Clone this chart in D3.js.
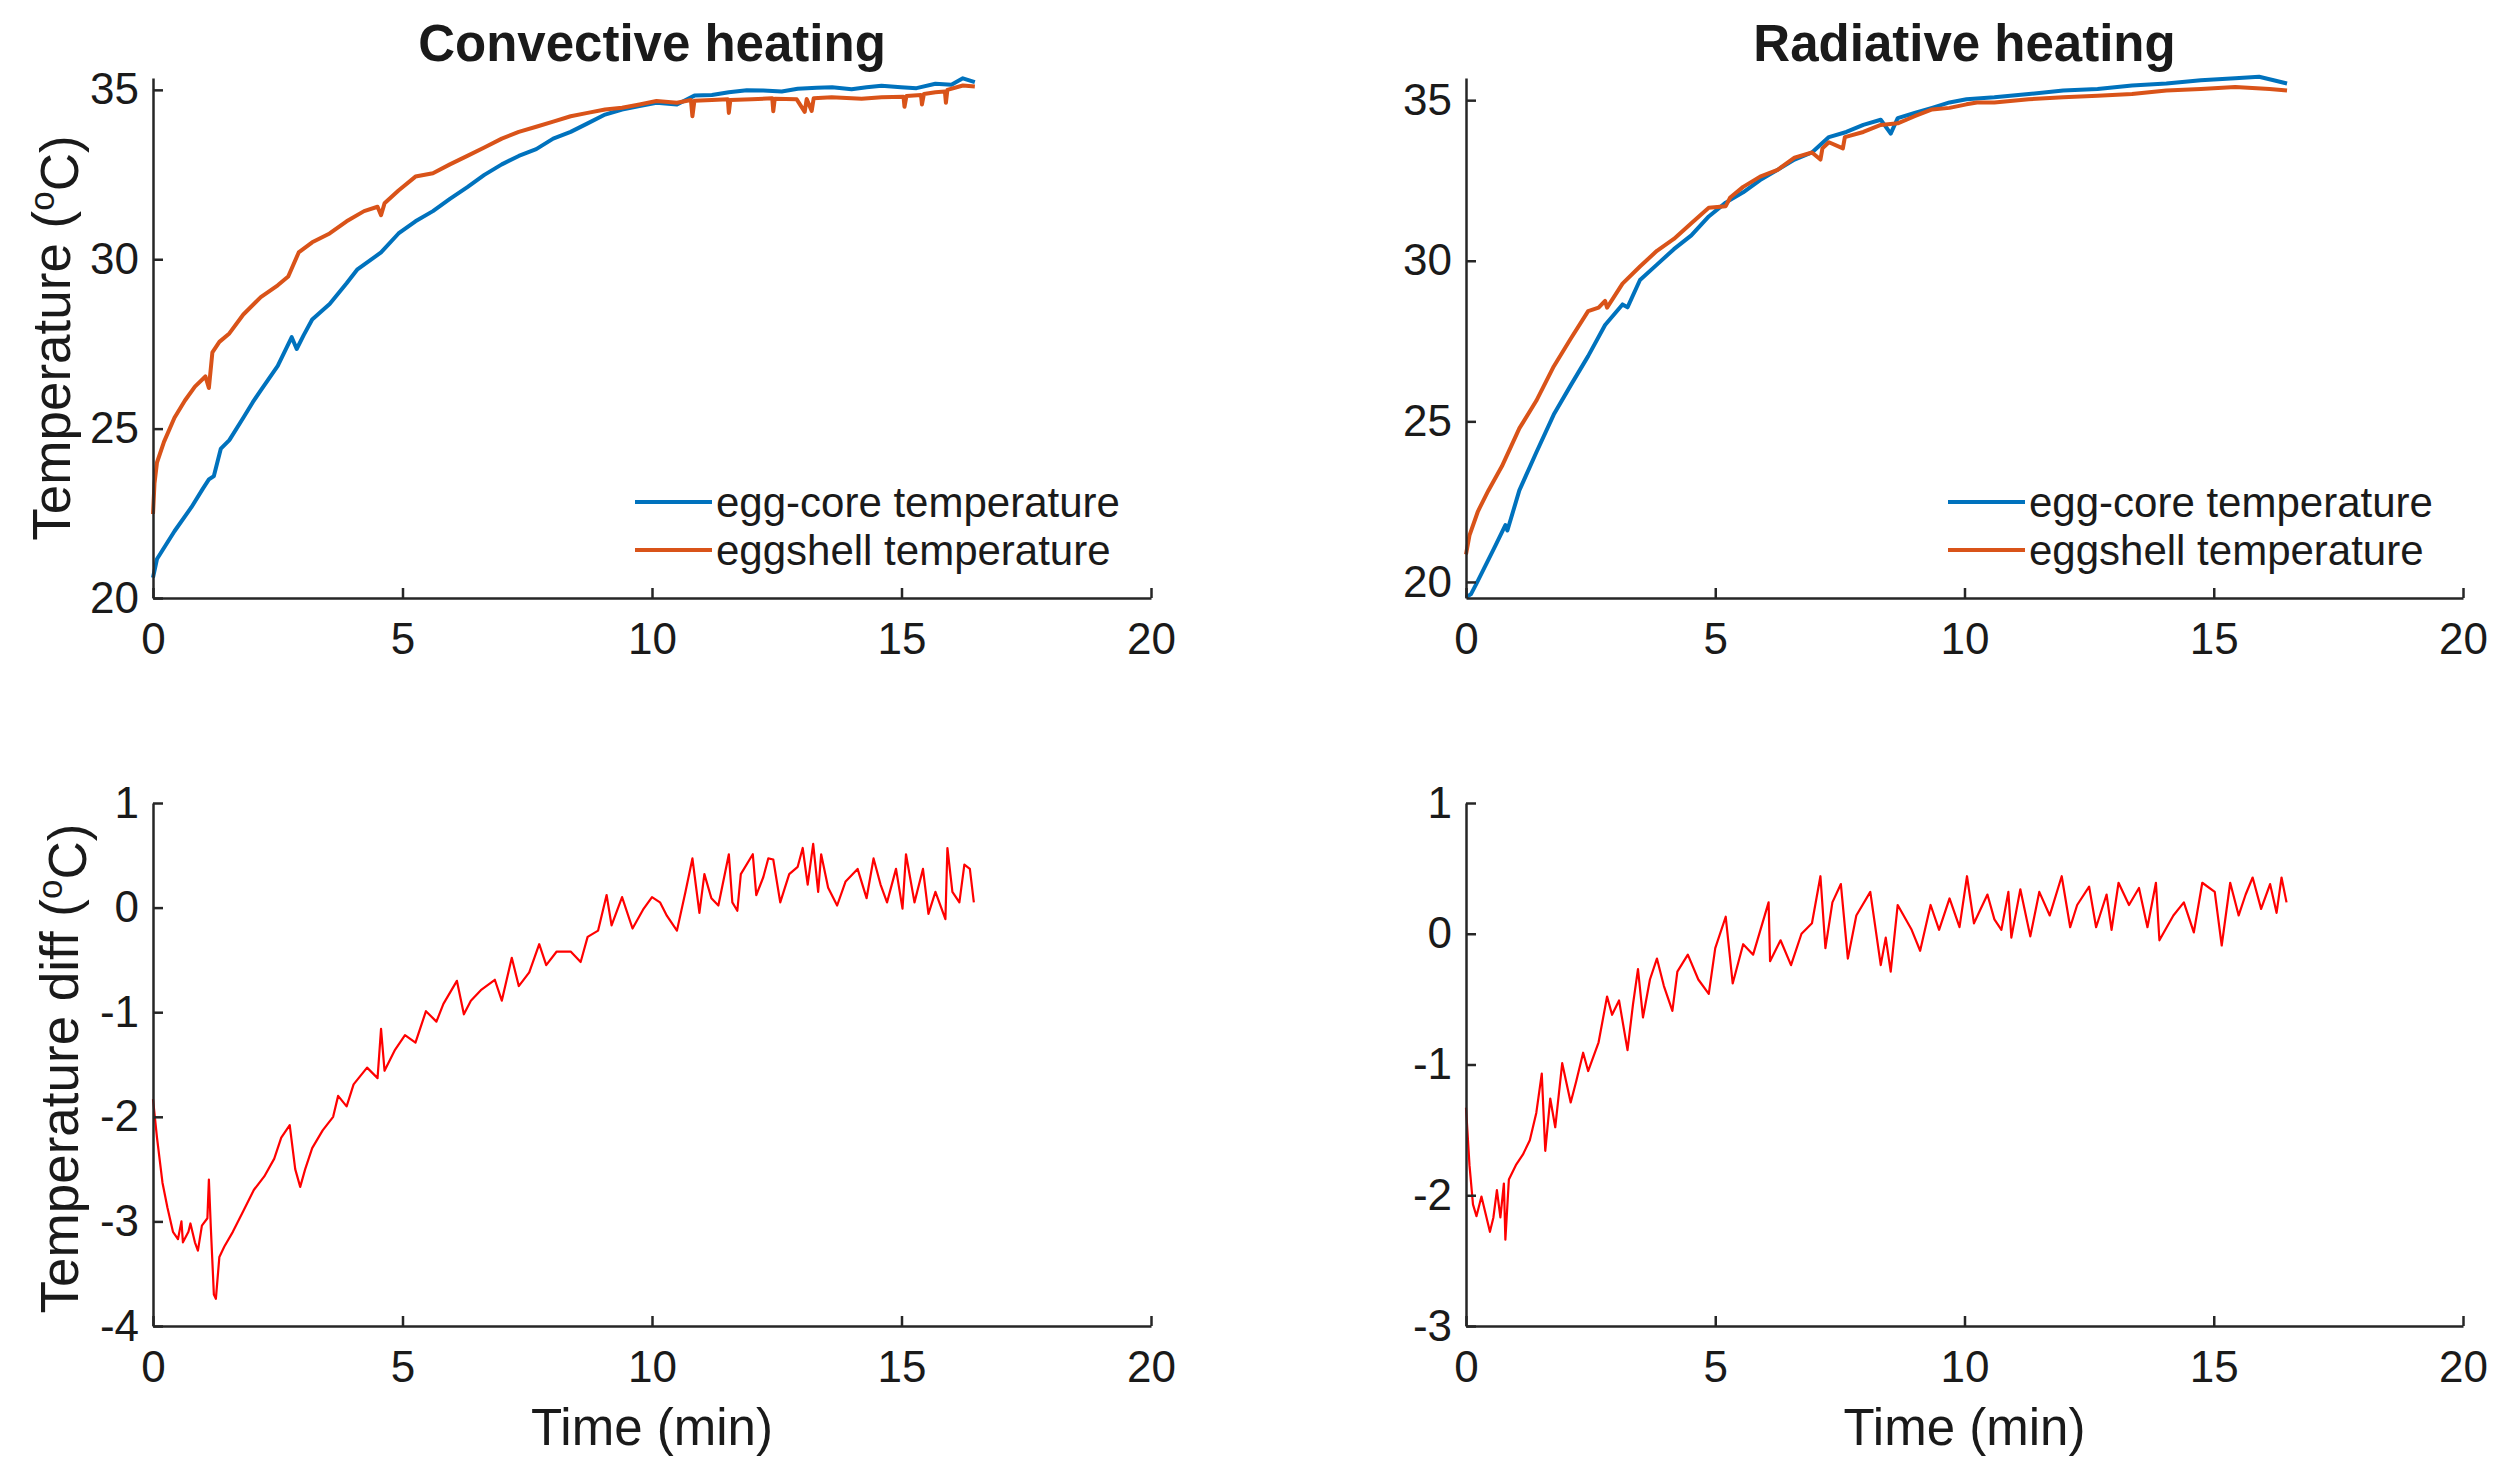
<!DOCTYPE html>
<html>
<head>
<meta charset="utf-8">
<script src="https://cdn.jsdelivr.net/npm/d3@7"></script>
<style>
  body { margin: 0; background: #fff; }
  text { font-family: "Liberation Sans", Arial, sans-serif; fill: #1a1a1a; }
</style>
</head>
<body>
<div id="viz"></div>
<script>
// ---- data (time in min, temperature in degC) ----
let titles = ["Convective heating", "Radiative heating"];
let legendNames = ["egg-core temperature", "eggshell temperature"];
let xTicks = [0, 5, 10, 15, 20];
let tempTicksConv = [20, 25, 30, 35];
let tempTicksRad = [20, 25, 30, 35];
let diffTicksConv = [-4, -3, -2, -1, 0, 1];
let diffTicksRad = [-3, -2, -1, 0, 1];

let convCoreTime = [0, 0.08, 0.43, 0.77, 1.0, 1.12, 1.22, 1.36, 1.53, 1.81, 2.0, 2.16, 2.5, 2.78, 2.88, 3.02, 3.19, 3.54, 3.88, 4.09, 4.57, 4.92, 5.26, 5.61, 5.95, 6.3, 6.64, 6.99, 7.33, 7.68, 8.02, 8.37, 8.71, 9.06, 9.4, 9.75, 10.09, 10.5, 10.85, 11.2, 11.54, 11.9, 12.23, 12.6, 12.92, 13.3, 13.61, 14.0, 14.3, 14.6, 14.99, 15.3, 15.68, 16.0, 16.23, 16.47];
let convCoreTemp = [20.6, 21.15, 21.97, 22.68, 23.23, 23.5, 23.6, 24.41, 24.66, 25.32, 25.78, 26.13, 26.85, 27.7, 27.35, 27.76, 28.22, 28.68, 29.29, 29.69, 30.2, 30.76, 31.12, 31.42, 31.78, 32.13, 32.49, 32.8, 33.05, 33.25, 33.56, 33.76, 34.01, 34.27, 34.42, 34.52, 34.62, 34.57, 34.83, 34.85, 34.93, 34.99, 34.98, 34.95, 35.03, 35.06, 35.08, 35.02, 35.08, 35.12, 35.08, 35.05, 35.18, 35.15, 35.34, 35.23];

let convShellTime = [0, 0.03, 0.08, 0.22, 0.43, 0.64, 0.84, 1.05, 1.12, 1.19, 1.33, 1.53, 1.81, 2.16, 2.5, 2.71, 2.92, 3.19, 3.54, 3.88, 4.23, 4.5, 4.57, 4.64, 4.92, 5.26, 5.61, 5.95, 6.3, 6.64, 6.99, 7.33, 7.68, 8.02, 8.37, 8.71, 9.06, 9.4, 9.75, 10.09, 10.5, 10.78, 10.81, 10.85, 11.2, 11.52, 11.54, 11.57, 12.0, 12.41, 12.43, 12.46, 12.9, 13.06, 13.1, 13.2, 13.24, 13.6, 14.2, 14.6, 15.04, 15.06, 15.1, 15.39, 15.41, 15.45, 15.68, 15.87, 15.89, 15.92, 16.23, 16.47];
let convShellTemp = [22.48, 23.39, 24.0, 24.61, 25.32, 25.83, 26.24, 26.54, 26.2, 27.25, 27.56, 27.81, 28.37, 28.88, 29.23, 29.49, 30.2, 30.5, 30.76, 31.12, 31.42, 31.55, 31.3, 31.65, 32.03, 32.44, 32.54, 32.8, 33.05, 33.3, 33.56, 33.76, 33.91, 34.06, 34.22, 34.32, 34.42, 34.47, 34.57, 34.67, 34.62, 34.7, 34.22, 34.68, 34.7, 34.72, 34.32, 34.7, 34.72, 34.75, 34.37, 34.74, 34.72, 34.35, 34.73, 34.38, 34.75, 34.78, 34.74, 34.78, 34.8, 34.5, 34.82, 34.85, 34.57, 34.88, 34.93, 34.95, 34.62, 35.0, 35.13, 35.1];

let radCoreTime = [0, 0.1, 0.21, 0.38, 0.59, 0.79, 0.83, 1.07, 1.41, 1.76, 2.1, 2.45, 2.79, 3.14, 3.24, 3.49, 3.83, 4.17, 4.52, 4.87, 5.21, 5.56, 5.9, 6.25, 6.59, 6.94, 7.28, 7.63, 7.97, 8.32, 8.52, 8.66, 9.0, 9.35, 9.7, 10.04, 10.6, 11.29, 11.98, 12.67, 13.36, 14.05, 14.74, 15.43, 15.91, 16.47];
let radCoreTemp = [19.52, 19.62, 19.95, 20.48, 21.13, 21.77, 21.6, 22.85, 24.03, 25.21, 26.12, 27.03, 28.0, 28.64, 28.55, 29.4, 29.88, 30.36, 30.79, 31.38, 31.81, 32.13, 32.51, 32.83, 33.15, 33.37, 33.85, 34.01, 34.23, 34.39, 33.96, 34.44, 34.6, 34.76, 34.93, 35.03, 35.09, 35.19, 35.3, 35.35, 35.46, 35.52, 35.62, 35.68, 35.73, 35.52];

let radShellTime = [0, 0.07, 0.24, 0.45, 0.72, 1.07, 1.41, 1.76, 2.1, 2.45, 2.66, 2.79, 2.83, 3.14, 3.49, 3.83, 4.17, 4.52, 4.87, 5.21, 5.3, 5.56, 5.9, 6.25, 6.59, 6.94, 7.11, 7.15, 7.28, 7.56, 7.6, 7.97, 8.32, 8.66, 9.0, 9.35, 9.7, 10.04, 10.25, 10.6, 11.29, 11.98, 12.67, 13.36, 14.05, 14.74, 15.43, 16.12, 16.47];
let radShellTemp = [20.86, 21.45, 22.2, 22.85, 23.6, 24.78, 25.64, 26.71, 27.57, 28.43, 28.54, 28.75, 28.54, 29.29, 29.82, 30.31, 30.68, 31.17, 31.65, 31.7, 31.97, 32.3, 32.62, 32.83, 33.21, 33.37, 33.15, 33.5, 33.69, 33.5, 33.85, 34.01, 34.23, 34.28, 34.5, 34.71, 34.76, 34.87, 34.93, 34.93, 35.03, 35.09, 35.14, 35.19, 35.3, 35.35, 35.41, 35.35, 35.3];

let convDiffTime = [0, 0.08, 0.19, 0.29, 0.4, 0.5, 0.57, 0.6, 0.71, 0.75, 0.84, 0.9, 0.98, 1.09, 1.12, 1.16, 1.22, 1.26, 1.33, 1.43, 1.6, 1.81, 2.02, 2.23, 2.43, 2.57, 2.74, 2.85, 2.95, 3.05, 3.19, 3.4, 3.61, 3.71, 3.88, 4.02, 4.29, 4.5, 4.57, 4.64, 4.85, 5.05, 5.26, 5.47, 5.68, 5.82, 6.09, 6.23, 6.37, 6.57, 6.85, 6.99, 7.19, 7.33, 7.54, 7.74, 7.88, 8.09, 8.37, 8.57, 8.71, 8.92, 9.09, 9.19, 9.4, 9.61, 9.82, 10.0, 10.16, 10.3, 10.5, 10.67, 10.81, 10.95, 11.05, 11.19, 11.33, 11.54, 11.61, 11.71, 11.78, 12.02, 12.09, 12.23, 12.33, 12.43, 12.57, 12.75, 12.92, 13.02, 13.12, 13.23, 13.33, 13.39, 13.53, 13.71, 13.88, 14.12, 14.3, 14.44, 14.58, 14.71, 14.89, 15.02, 15.09, 15.26, 15.43, 15.54, 15.68, 15.88, 15.92, 16.02, 16.16, 16.26, 16.37, 16.45];
let convDiffValue = [-1.83, -2.2, -2.63, -2.87, -3.1, -3.17, -3.0, -3.2, -3.1, -3.02, -3.2, -3.28, -3.04, -2.97, -2.6, -3.07, -3.7, -3.74, -3.34, -3.24, -3.1, -2.9, -2.7, -2.57, -2.4, -2.2, -2.08, -2.5, -2.67, -2.5, -2.3, -2.13, -2.0, -1.8, -1.9, -1.69, -1.53, -1.63, -1.16, -1.56, -1.36, -1.22, -1.29, -0.99, -1.09, -0.92, -0.7, -1.02, -0.89, -0.79, -0.69, -0.89, -0.48, -0.75, -0.62, -0.35, -0.55, -0.42, -0.42, -0.52, -0.28, -0.22, 0.12, -0.17, 0.1, -0.2, -0.02, 0.1, 0.05, -0.08, -0.22, 0.15, 0.47, -0.05, 0.32, 0.09, 0.02, 0.51, 0.05, -0.03, 0.32, 0.51, 0.12, 0.29, 0.47, 0.46, 0.05, 0.32, 0.39, 0.57, 0.22, 0.61, 0.15, 0.51, 0.19, 0.02, 0.25, 0.37, 0.09, 0.47, 0.22, 0.05, 0.37, -0.01, 0.51, 0.05, 0.37, -0.06, 0.15, -0.11, 0.57, 0.15, 0.05, 0.41, 0.37, 0.05];

let radDiffTime = [0, 0.07, 0.14, 0.21, 0.31, 0.38, 0.48, 0.55, 0.62, 0.69, 0.76, 0.79, 0.86, 1.0, 1.14, 1.28, 1.41, 1.52, 1.59, 1.69, 1.79, 1.93, 2.1, 2.21, 2.35, 2.45, 2.66, 2.83, 2.93, 3.07, 3.24, 3.35, 3.45, 3.55, 3.69, 3.83, 3.97, 4.14, 4.24, 4.45, 4.66, 4.87, 5.0, 5.21, 5.35, 5.56, 5.76, 6.07, 6.1, 6.31, 6.52, 6.73, 6.94, 7.11, 7.21, 7.35, 7.52, 7.66, 7.83, 8.11, 8.32, 8.42, 8.52, 8.66, 8.94, 9.11, 9.32, 9.49, 9.7, 9.9, 10.05, 10.19, 10.46, 10.6, 10.74, 10.88, 10.94, 11.12, 11.32, 11.5, 11.71, 11.95, 12.12, 12.26, 12.5, 12.64, 12.85, 12.95, 13.09, 13.3, 13.5, 13.67, 13.84, 13.91, 14.19, 14.4, 14.6, 14.77, 15.02, 15.16, 15.33, 15.5, 15.64, 15.78, 15.95, 16.13, 16.26, 16.36, 16.46];
let radDiffValue = [-1.33, -1.77, -2.07, -2.16, -2.01, -2.12, -2.28, -2.17, -1.96, -2.17, -1.91, -2.34, -1.88, -1.77, -1.69, -1.58, -1.37, -1.07, -1.66, -1.26, -1.48, -0.99, -1.29, -1.13, -0.91, -1.05, -0.83, -0.48, -0.62, -0.51, -0.89, -0.54, -0.27, -0.64, -0.35, -0.19, -0.4, -0.59, -0.29, -0.16, -0.35, -0.46, -0.11, 0.13, -0.38, -0.08, -0.16, 0.24, -0.21, -0.05, -0.24, 0.0, 0.08, 0.44, -0.11, 0.24, 0.38, -0.19, 0.14, 0.32, -0.24, -0.03, -0.29, 0.22, 0.03, -0.13, 0.22, 0.03, 0.27, 0.05, 0.44, 0.08, 0.3, 0.11, 0.03, 0.32, -0.03, 0.34, -0.02, 0.32, 0.14, 0.44, 0.05, 0.22, 0.36, 0.05, 0.3, 0.03, 0.39, 0.22, 0.35, 0.05, 0.39, -0.05, 0.14, 0.24, 0.01, 0.39, 0.32, -0.09, 0.39, 0.14, 0.3, 0.43, 0.19, 0.38, 0.16, 0.43, 0.24];

// ---- layout ----
var width = 2508, height = 1476;
var colX = [[153, 1151], [1466, 2463]];
var rowY = [[78, 598], [803, 1326]];
var blue = "#0072BD", orange = "#D95319", red = "#FF0000";
var axisColor = "#262626";

let zip = (ts, vs) => ts.map((t, i) => ({t: t, v: vs[i]}));

let panels = [
  {col: 0, row: 0, domain: [20, 35.35], ticks: tempTicksConv, title: titles[0],
   series: [{d: zip(convCoreTime, convCoreTemp), c: blue, w: 4}, {d: zip(convShellTime, convShellTemp), c: orange, w: 4}]},
  {col: 1, row: 0, domain: [19.5, 35.69], ticks: tempTicksRad, title: titles[1],
   series: [{d: zip(radCoreTime, radCoreTemp), c: blue, w: 4}, {d: zip(radShellTime, radShellTemp), c: orange, w: 4}]},
  {col: 0, row: 1, domain: [-4, 1], ticks: diffTicksConv,
   series: [{d: zip(convDiffTime, convDiffValue), c: red, w: 2.2}]},
  {col: 1, row: 1, domain: [-3, 1], ticks: diffTicksRad,
   series: [{d: zip(radDiffTime, radDiffValue), c: red, w: 2.2}]}
];

var svg = d3.select("#viz")
  .append("svg")
    .attr("width", width)
    .attr("height", height);

// plain hyphen for negatives, like the figure
let fmt = d => String(d);

panels.forEach(function(p) {
  var x = d3.scaleLinear().domain([0, 20]).range(colX[p.col]);
  var y = d3.scaleLinear().domain(p.domain).range([rowY[p.row][1], rowY[p.row][0]]);
  var g = svg.append("g");

  // lines first, axes on top like matlab
  var line = d3.line().x(d => x(d.t)).y(d => y(d.v));
  p.series.forEach(function(s) {
    g.append("path")
      .datum(s.d)
      .attr("fill", "none")
      .attr("stroke", s.c)
      .attr("stroke-width", s.w)
      .attr("stroke-linejoin", "round")
      .attr("d", line);
  });

  var xAxis = g.append("g")
    .attr("transform", "translate(0," + rowY[p.row][1] + ")")
    .call(d3.axisBottom(x).tickValues(xTicks).tickFormat(fmt).tickSize(-10).tickSizeOuter(0).tickPadding(25));
  var yAxis = g.append("g")
    .attr("transform", "translate(" + colX[p.col][0] + ",0)")
    .call(d3.axisLeft(y).tickValues(p.ticks).tickFormat(fmt).tickSize(-10).tickSizeOuter(0).tickPadding(14));

  [xAxis, yAxis].forEach(function(a) {
    a.select(".domain").attr("stroke", axisColor).attr("stroke-width", 2.5);
    a.selectAll(".tick line").attr("stroke", axisColor).attr("stroke-width", 2.5);
    a.selectAll(".tick text")
      .style("font-family", "'Liberation Sans', Arial, sans-serif")
      .style("font-size", "44px")
      .attr("fill", "#1a1a1a");
  });

  var cx = (colX[p.col][0] + colX[p.col][1]) / 2;
  if (p.title) {
    g.append("text")
      .attr("x", cx)
      .attr("y", 61)
      .attr("text-anchor", "middle")
      .style("font-size", "51px")
      .style("font-weight", "bold")
      .text(p.title);

    // legend, bottom right of the top panels
    var lx = colX[p.col][0] + 482;
    legendNames.forEach(function(name, i) {
      var ly = 502 + i * 48;
      g.append("line")
        .attr("x1", lx).attr("x2", lx + 77)
        .attr("y1", ly).attr("y2", ly)
        .attr("stroke", p.series[i].c)
        .attr("stroke-width", 4);
      g.append("text")
        .attr("x", lx + 81)
        .attr("y", ly)
        .attr("dy", "0.35em")
        .style("font-size", "42px")
        .text(name);
    });
  } else {
    g.append("text")
      .attr("x", cx)
      .attr("y", 1445)
      .attr("text-anchor", "middle")
      .style("font-size", "51px")
      .text("Time (min)");
  }
});

// y labels with the small superscript o
let yLabels = [
  {text: "Temperature (", x: 70, y: (rowY[0][0] + rowY[0][1]) / 2},
  {text: "Temperature diff (", x: 78, y: (rowY[1][0] + rowY[1][1]) / 2 + 4}
];
yLabels.forEach(function(l) {
  var t = svg.append("text")
    .attr("transform", "translate(" + l.x + "," + l.y + ") rotate(-90)")
    .attr("text-anchor", "middle")
    .style("font-size", "53px");
  t.append("tspan").text(l.text);
  t.append("tspan").attr("dy", "-0.45em").style("font-size", "35px").text("o");
  t.append("tspan").attr("dy", "0.45em").text("C)");
});
</script>
</body>
</html>
